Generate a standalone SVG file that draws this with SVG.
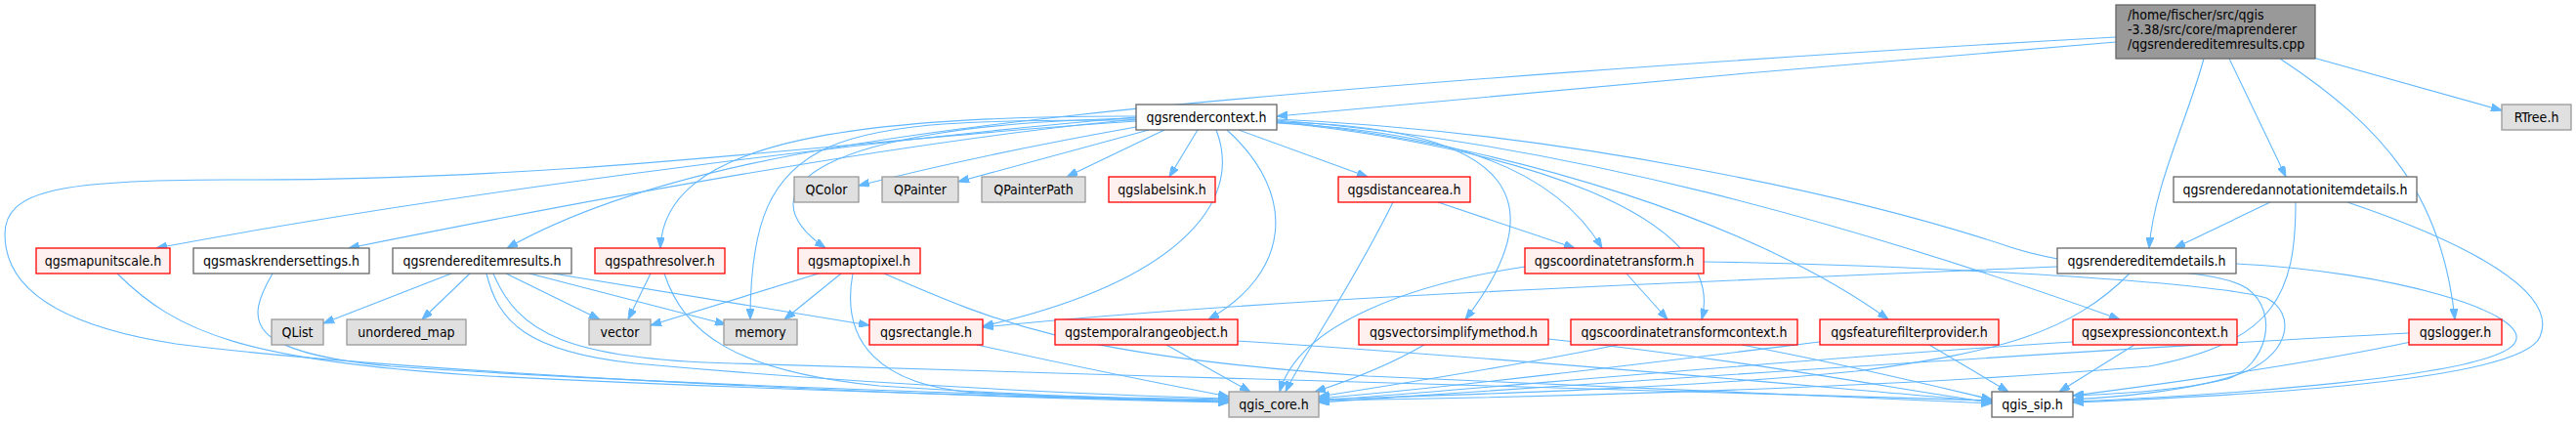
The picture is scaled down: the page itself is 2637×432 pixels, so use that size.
<svg xmlns="http://www.w3.org/2000/svg" width="2637" height="432" viewBox="0 0 2637 432">
<style>
.edges path{fill:none;stroke:#63b8ff;stroke-width:1.1;marker-end:url(#arr)}
.node rect{stroke-width:1.3}
.gray rect{fill:#e0e0e0;stroke:#999999}
.red rect{fill:#fff0f0;stroke:#ff0000}
.white rect{fill:#ffffff;stroke:#666666}
.main rect{fill:#999999;stroke:#666666}
text{font-family:"DejaVu Sans Condensed","DejaVu Sans",sans-serif;font-stretch:condensed;font-size:14px;fill:#000000;text-anchor:middle}
.main text{text-anchor:start}
</style>
<defs>
<marker id="arr" markerWidth="11" markerHeight="8" refX="11" refY="4" orient="auto" markerUnits="userSpaceOnUse">
<path d="M0,0 L11,4 L0,8 z" fill="#63b8ff" stroke="#63b8ff" stroke-width="1"/>
</marker>
</defs>
<rect x="0" y="0" width="2637" height="432" fill="#ffffff"/>
<g class="edges">
<path d="M2166,43 C1900,65 1550,95 1307,119"/>
<path d="M2166,38 C1850,55 1350,90 1100,118 C850,145 650,180 519,254"/>
<path d="M2256,60 C2240,120 2205,190 2200,254"/>
<path d="M2282,60 L2340,181"/>
<path d="M2334,60 C2440,130 2500,200 2513,327"/>
<path d="M2368,59 L2561,113"/>
<path d="M1163,130 C1050,150 950,172 879,190"/>
<path d="M1176,133 L981,186"/>
<path d="M1192,133 L1092,181"/>
<path d="M1226,133 L1197,181"/>
<path d="M1268,133 L1400,181"/>
<path d="M1163,120 C950,138 500,190 160,254"/>
<path d="M1163,122 C950,142 650,195 357,254"/>
<path d="M1163,119 C850,118 680,150 676,254"/>
<path d="M1163,121 C830,128 760,195 845,254"/>
<path d="M1163,123 C850,122 768,130 768,327"/>
<path d="M1245,133 C1275,210 1200,290 1006,334"/>
<path d="M1256,133 C1330,200 1320,280 1237,327"/>
<path d="M1307,125 C1560,130 1590,210 1500,327"/>
<path d="M1307,126 C1480,135 1590,170 1640,254"/>
<path d="M1307,125 C1550,150 1770,220 1742,327"/>
<path d="M1307,124 C1550,148 1800,230 1933,327"/>
<path d="M1307,123 C1600,145 1900,230 2170,327"/>
<path d="M1307,122 C1600,135 1900,200 2058,253 C2150,283 2260,270 2300,295 C2335,320 2320,375 2280,388 C2230,400 2170,403 2122,405"/>
<path d="M1163,124 C900,140 600,185 250,184 C60,183 5,195 5,240 C5,300 70,335 180,352 C400,380 900,405 1258,412"/>
<path d="M120,280 C180,340 250,370 500,385 C800,400 1100,408 1258,410"/>
<path d="M279,280 C250,330 250,360 400,375 C700,395 1100,407 1258,409"/>
<path d="M462,280 L331,331"/>
<path d="M481,280 L432,327"/>
<path d="M518,280 L614,327"/>
<path d="M542,280 L743,332"/>
<path d="M566,280 L890,333"/>
<path d="M498,280 C510,330 540,360 650,372 C900,395 1150,405 1258,408"/>
<path d="M505,280 C530,340 580,368 750,372 C1200,385 1800,405 2039,410"/>
<path d="M666,280 L643,327"/>
<path d="M680,280 C700,340 750,380 900,395 C1050,405 1200,410 1258,412"/>
<path d="M838,280 L666,333"/>
<path d="M861,280 L803,327"/>
<path d="M873,280 C860,350 900,395 1000,402 C1100,408 1200,410 1258,411"/>
<path d="M905,280 C1020,330 1100,365 1400,385 C1700,400 1900,408 2039,413"/>
<path d="M1472,207 L1612,254"/>
<path d="M1426,207 C1380,300 1330,370 1316,401"/>
<path d="M1665,280 L1707,327"/>
<path d="M1561,273 C1450,290 1330,330 1310,401"/>
<path d="M1744,268 C1900,270 2250,285 2320,305 C2350,320 2345,360 2300,380 C2250,400 2170,406 2122,409"/>
<path d="M1000,353 C1100,375 1200,395 1258,406"/>
<path d="M1194,353 L1280,401"/>
<path d="M1267,349 C1600,370 1900,400 2039,411"/>
<path d="M1458,353 C1420,375 1380,390 1346,401"/>
<path d="M1585,347 C1800,370 1950,400 2039,412"/>
<path d="M1656,353 C1550,375 1420,395 1350,406"/>
<path d="M1783,353 C1900,375 2000,400 2039,409"/>
<path d="M1863,350 C1700,370 1500,395 1350,408"/>
<path d="M1975,353 L2056,401"/>
<path d="M2122,350 C1800,370 1500,400 1350,410"/>
<path d="M2185,353 L2108,401"/>
<path d="M2466,341 C2100,360 1600,395 1350,412"/>
<path d="M2468,350 C2350,375 2200,395 2122,405"/>
<path d="M2106,273 C1700,290 1300,305 1006,335"/>
<path d="M2180,280 C2120,340 2050,360 1900,380 C1700,400 1450,405 1350,409"/>
<path d="M2289,270 C2450,278 2590,320 2575,350 C2555,390 2200,408 2122,411"/>
<path d="M2324,207 L2226,254"/>
<path d="M2350,207 C2350,300 2330,350 2200,375 C1900,400 1500,408 1350,410"/>
<path d="M2403,207 C2530,250 2620,300 2600,345 C2580,390 2300,405 2122,412"/>
</g>
<g id="n0" class="node main"><rect x="2166" y="5" width="204" height="55"/><text x="2178" y="20">/home/fischer/src/qgis</text><text x="2178" y="35">-3.38/src/core/maprenderer</text><text x="2178" y="50">/qgsrendereditemresults.cpp</text></g>
<g id="n1" class="node white"><rect x="1163" y="107" width="144" height="26"/><text x="1235" y="125">qgsrendercontext.h</text></g>
<g id="n2" class="node gray"><rect x="2561" y="107" width="71" height="26"/><text x="2596.5" y="125">RTree.h</text></g>
<g id="n3" class="node gray"><rect x="813" y="181" width="66" height="26"/><text x="846" y="199">QColor</text></g>
<g id="n4" class="node gray"><rect x="903" y="181" width="78" height="26"/><text x="942" y="199">QPainter</text></g>
<g id="n5" class="node gray"><rect x="1005" y="181" width="106" height="26"/><text x="1058" y="199">QPainterPath</text></g>
<g id="n6" class="node red"><rect x="1135" y="181" width="109" height="26"/><text x="1189.5" y="199">qgslabelsink.h</text></g>
<g id="n7" class="node red"><rect x="1370" y="181" width="135" height="26"/><text x="1437.5" y="199">qgsdistancearea.h</text></g>
<g id="n8" class="node white"><rect x="2225" y="181" width="249" height="26"/><text x="2349.5" y="199">qgsrenderedannotationitemdetails.h</text></g>
<g id="n9" class="node red"><rect x="37" y="254" width="137" height="26"/><text x="105.5" y="272">qgsmapunitscale.h</text></g>
<g id="n10" class="node white"><rect x="198" y="254" width="180" height="26"/><text x="288" y="272">qgsmaskrendersettings.h</text></g>
<g id="n11" class="node white"><rect x="402" y="254" width="183" height="26"/><text x="493.5" y="272">qgsrendereditemresults.h</text></g>
<g id="n12" class="node red"><rect x="609" y="254" width="133" height="26"/><text x="675.5" y="272">qgspathresolver.h</text></g>
<g id="n13" class="node red"><rect x="817" y="254" width="125" height="26"/><text x="879.5" y="272">qgsmaptopixel.h</text></g>
<g id="n14" class="node red"><rect x="1561" y="254" width="183" height="26"/><text x="1652.5" y="272">qgscoordinatetransform.h</text></g>
<g id="n15" class="node white"><rect x="2106" y="254" width="183" height="26"/><text x="2197.5" y="272">qgsrendereditemdetails.h</text></g>
<g id="n16" class="node gray"><rect x="278" y="327" width="53" height="26"/><text x="304.5" y="345">QList</text></g>
<g id="n17" class="node gray"><rect x="355" y="327" width="122" height="26"/><text x="416" y="345">unordered_map</text></g>
<g id="n18" class="node gray"><rect x="603" y="327" width="63" height="26"/><text x="634.5" y="345">vector</text></g>
<g id="n19" class="node gray"><rect x="741" y="327" width="75" height="26"/><text x="778.5" y="345">memory</text></g>
<g id="n20" class="node red"><rect x="890" y="327" width="116" height="26"/><text x="948" y="345">qgsrectangle.h</text></g>
<g id="n21" class="node red"><rect x="1080" y="327" width="187" height="26"/><text x="1173.5" y="345">qgstemporalrangeobject.h</text></g>
<g id="n22" class="node red"><rect x="1391" y="327" width="194" height="26"/><text x="1488" y="345">qgsvectorsimplifymethod.h</text></g>
<g id="n23" class="node red"><rect x="1608" y="327" width="232" height="26"/><text x="1724" y="345">qgscoordinatetransformcontext.h</text></g>
<g id="n24" class="node red"><rect x="1863" y="327" width="183" height="26"/><text x="1954.5" y="345">qgsfeaturefilterprovider.h</text></g>
<g id="n25" class="node red"><rect x="2122" y="327" width="168" height="26"/><text x="2206" y="345">qgsexpressioncontext.h</text></g>
<g id="n26" class="node red"><rect x="2466" y="327" width="95" height="26"/><text x="2513.5" y="345">qgslogger.h</text></g>
<g id="n27" class="node gray"><rect x="1258" y="401" width="92" height="26"/><text x="1304" y="419">qgis_core.h</text></g>
<g id="n28" class="node white"><rect x="2039" y="401" width="83" height="26"/><text x="2080.5" y="419">qgis_sip.h</text></g>
</svg>
